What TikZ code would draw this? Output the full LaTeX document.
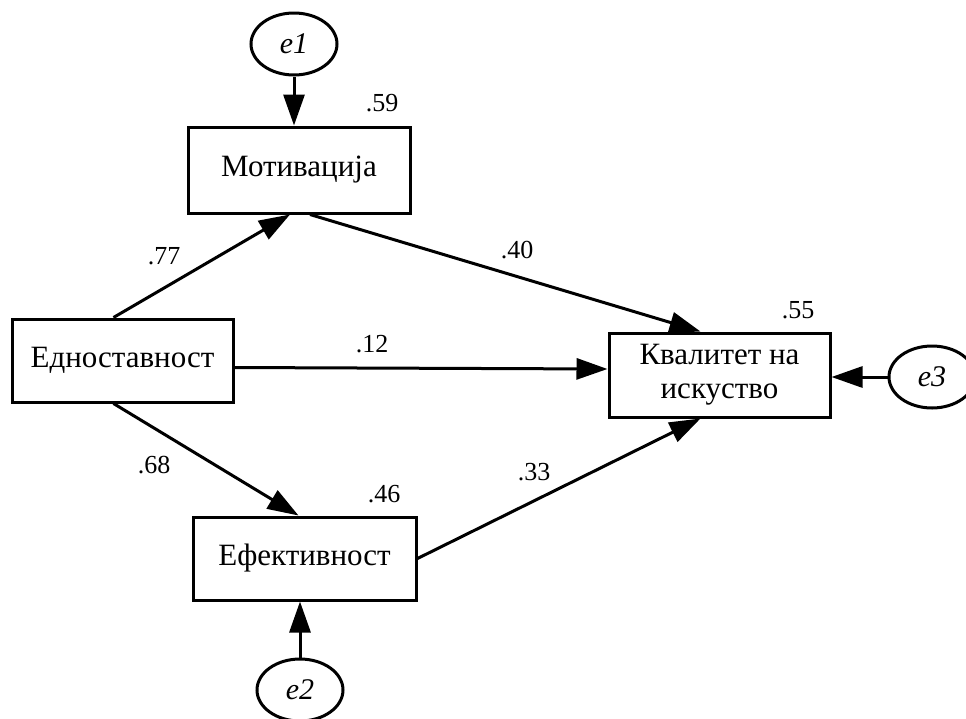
\documentclass[tikz,border=0pt]{standalone}
\usepackage{fontspec}
\setmainfont{Liberation Serif}
\usetikzlibrary{arrows.meta,calc,shapes.geometric}
\begin{document}
\begin{tikzpicture}[x=1pt,y=-1pt,
  box/.style={draw,line width=3pt,rectangle,inner sep=0pt,font=\fontsize{31}{36}\selectfont,align=center},
  err/.style={draw,line width=3pt,ellipse,inner sep=0pt,minimum width=86pt,minimum height=62pt,font=\fontsize{30}{36}\selectfont\itshape},
  arr/.style={line width=3pt,-{Triangle[length=31pt,width=21pt]}},
  lab/.style={font=\fontsize{26}{32}\selectfont,inner sep=0pt}]
\useasboundingbox (0,0) rectangle (966,718);
\fill[white] (0,0) rectangle (966,718);
% boxes
\node[box,minimum width=222pt,minimum height=86pt] (mot) at (299,170) {Мотивација};
\node[box,minimum width=221pt,minimum height=83pt] (ed) at (122.5,360.5) {Едноставност};
\node[box,minimum width=221pt,minimum height=84pt] (kv) at (719.5,375) {Квалитет на\\[-2pt]искуство};
\node[box,minimum width=223pt,minimum height=83pt] (ef) at (304.5,558.5) {Ефективност};
% error terms
\node[err] (e1) at (294,44) {e1};
\node[err] (e2) at (300,690) {e2};
\node[err] (e3) at (932,377) {e3};
% paths
\draw[arr] ($(ed.north)+(-9,0)$) -- ($(mot.south)+(-9,0)$);
\draw[arr] ($(mot.south)+(11,0)$) -- ($(kv.north)+(-19,0)$);
\draw[arr] ($(ed.east)+(0,7)$) -- ($(kv.west)+(0,-6)$);
\draw[arr] ($(ed.south)+(-9,0)$) -- ($(ef.north)+(-6,0)$);
\draw[arr] ($(ef.east)+(0,0)$) -- ($(kv.south)+(-19,0)$);
\draw[arr] (e1.south) -- (e1.south |- mot.north);
\draw[arr] (e2.north) -- (e2.north |- ef.south);
\draw[arr] (e3.west) -- (e3.west -| kv.east);
% labels
\node[lab] (r1) at (382,103) {.59};
\node[lab] (r3) at (798,310) {.55};
\node[lab] (r2) at (384,494) {.46};
\node[lab] (c1) at (164,256) {.77};
\node[lab] (c2) at (517,250) {.40};
\node[lab] (c3) at (372,344) {.12};
\node[lab] (c4) at (154,465) {.68};
\node[lab] (c5) at (534,472) {.33};
\end{tikzpicture}
\end{document}
